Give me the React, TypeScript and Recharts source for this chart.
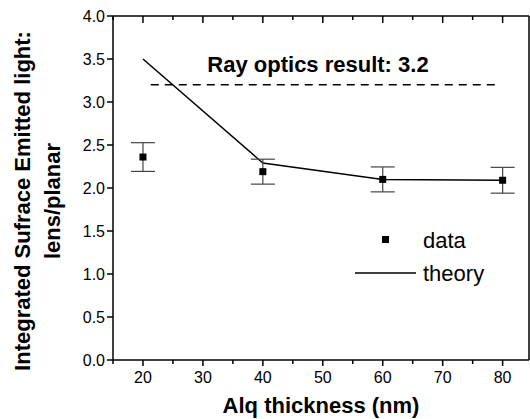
import React from 'react';
import { ComposedChart, Line, Scatter, ErrorBar, XAxis, YAxis, ReferenceLine, Legend, Label } from 'recharts';

const thickness = [20, 40, 60, 80];
const measured = [2.36, 2.19, 2.1, 2.09];
const measuredErr = [0.167, 0.145, 0.145, 0.15];
const theory = [3.5, 2.29, 2.1, 2.09];
const rayOptics = 3.2;
const rayRange = [21.3, 78.7];

const xTicks = [15, 20, 25, 30, 35, 40, 45, 50, 55, 60, 65, 70, 75, 80];
const yTicks = [0, 0.25, 0.5, 0.75, 1, 1.25, 1.5, 1.75, 2, 2.25, 2.5, 2.75, 3, 3.25, 3.5, 3.75, 4];

const data = thickness.map((x, i) => ({ x, measured: measured[i], err: measuredErr[i], theory: theory[i] }));

const FONT = '"Liberation Sans", Arial, sans-serif';

const BottomTick = (p: any) => {
  const major = p.payload.value % 10 === 0;
  return (
    <g>
      <line x1={p.x} x2={p.x} y1={p.y} y2={p.y + (major ? 6 : 4)} stroke="#000" strokeWidth={1.5} />
      {major && <text x={p.x} y={p.y + 23} textAnchor="middle" fontSize={16} fontFamily={FONT} fill="#000">{p.payload.value}</text>}
    </g>
  );
};

const TopTick = (p: any) => {
  const major = p.payload.value % 10 === 0;
  return <line x1={p.x} x2={p.x} y1={16} y2={16 + (major ? 7 : 4)} stroke="#000" strokeWidth={1.5} />;
};

const LeftTick = (p: any) => {
  const major = (p.payload.value * 2) % 1 === 0;
  return (
    <g>
      <line x1={p.x - (major ? 6 : 3)} x2={p.x} y1={p.y} y2={p.y} stroke="#000" strokeWidth={1.5} />
      {major && <text x={p.x - 8} y={p.y + 6} textAnchor="end" fontSize={16} fontFamily={FONT} fill="#000">{p.payload.value.toFixed(1)}</text>}
    </g>
  );
};

const RightTick = (p: any) => {
  const major = (p.payload.value * 2) % 1 === 0;
  return <line x1={529 - (major ? 6 : 3)} x2={529} y1={p.y} y2={p.y} stroke="#000" strokeWidth={1.5} />;
};

const Square = (p: any) => <rect x={p.cx - 3.5} y={p.cy - 3.5} width={7} height={7} fill="#000" />;

const LegendBox = () => (
  <svg width={160} height={66} style={{ display: 'block' }}>
    <rect x={32} y={14} width={7} height={7} fill="#000" />
    <text x={73} y={26} fontSize={22} fontFamily={FONT} fill="#000">data</text>
    <line x1={5} x2={66} y1={51} y2={51} stroke="#000" strokeWidth={1.5} />
    <text x={73} y={59} fontSize={22} fontFamily={FONT} fill="#000">theory</text>
  </svg>
);

export default function App() {
  return (
    <div style={{ position: 'absolute', left: 0, top: 0, width: 530, height: 419, overflow: 'hidden', background: '#fff' }}>
      <ComposedChart width={530} height={419} data={data} margin={{ top: 15, right: 0, left: 0, bottom: 0 }}>
        <XAxis xAxisId="b" dataKey="x" type="number" domain={[15, 84.4]} ticks={xTicks} height={59}
          tickSize={0} tickMargin={0} tickLine={false} tick={<BottomTick />}
          axisLine={{ stroke: '#000', strokeWidth: 1.5 }}
          label={<Label content={() => (
            <text x={321} y={413} textAnchor="middle" fontSize={22} fontWeight="bold" fontFamily={FONT} fill="#000">Alq thickness (nm)</text>
          )} />} />
        <XAxis xAxisId="t" orientation="top" dataKey="x" type="number" domain={[15, 84.4]} ticks={xTicks} height={1}
          tickSize={0} tickMargin={0} tickLine={false} tick={<TopTick />}
          axisLine={{ stroke: '#000', strokeWidth: 1.5 }} />
        <YAxis yAxisId="l" type="number" domain={[0, 4]} ticks={yTicks} width={113}
          tickSize={0} tickMargin={0} tickLine={false} tick={<LeftTick />}
          axisLine={{ stroke: '#000', strokeWidth: 1.5 }}
          label={<Label content={() => (
            <g fontSize={22} fontWeight="bold" fontFamily={FONT} fill="#000">
              <text x={22} y={201} transform="rotate(-90 22 201)" textAnchor="middle" dominantBaseline="central">Integrated Sufrace Emitted light:</text>
              <text x={52} y={201} transform="rotate(-90 52 201)" textAnchor="middle" dominantBaseline="central">lens/planar</text>
            </g>
          )} />} />
        <YAxis yAxisId="r" orientation="right" type="number" domain={[0, 4]} ticks={yTicks} width={1}
          tickSize={0} tickMargin={0} tickLine={false} tick={<RightTick />}
          axisLine={{ stroke: '#000', strokeWidth: 1.5 }} />
        <ReferenceLine xAxisId="b" yAxisId="l"
          segment={[{ x: rayRange[0], y: rayOptics }, { x: rayRange[1], y: rayOptics }]}
          stroke="#000" strokeWidth={1.5} strokeDasharray="8 6"
          label={<Label content={() => (
            <text x={318} y={72} textAnchor="middle" fontSize={22} fontWeight="bold" fontFamily={FONT} fill="#000">Ray optics result: {rayOptics}</text>
          )} />} />
        <Line xAxisId="b" yAxisId="l" dataKey="theory" type="linear" stroke="#000" strokeWidth={1.5} dot={false} isAnimationActive={false} />
        <Scatter xAxisId="b" yAxisId="l" dataKey="measured" shape={<Square />} isAnimationActive={false}>
          <ErrorBar dataKey="err" width={12} stroke="#444" strokeWidth={1.2} direction="y" />
        </Scatter>
        <Legend layout="vertical" align="center" verticalAlign="middle" content={<LegendBox />}
          wrapperStyle={{ left: 350, top: 222, width: 160 }} />
      </ComposedChart>
    </div>
  );
}
